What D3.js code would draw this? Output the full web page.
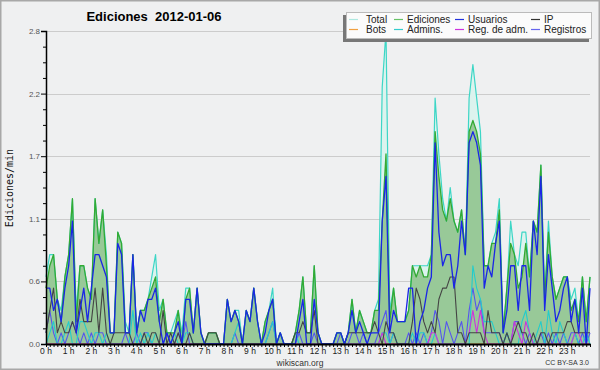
<!DOCTYPE html>
<html>
<head>
<meta charset="utf-8">
<script src="https://cdn.jsdelivr.net/npm/d3@7"></script>
<style>
  html, body { margin: 0; padding: 0; background: #eff0f1; }
  svg { display: block; }
</style>
</head>
<body>
<div id="plotdiv"></div>
<script>
// data: 10 minute slots, 0 h .. 24 h (145 points)
const ediciones = [
  0.5,0.7,0.8,0.4,0.2,0.6, 0.8,1.3,0.2,0.7,0.7,0.5, 0.4,1.3,0.9,1.2,0.7,0.1,
  0.1,1.0,0.9,0.1,0.1,0.8, 0.1,0.3,0.3,0.4,0.5,0.6, 0.2,0.4,0.1,0.1,0.1,0.3,
  0.0,0.4,0.5,0.1,0.5,0.1, 0.0,0.1,0.1,0.1,0.0,0.0, 0.4,0.2,0.3,0.2,0.0,0.3,
  0.2,0.5,0.2,0.0,0.2,0.3, 0.4,0.0,0.1,0.0,0.0,0.0, 0.1,0.3,0.6,0.1,0.1,0.7,
  0.1,0.0,0.0,0.0,0.0,0.1, 0.1,0.0,0.1,0.4,0.1,0.3, 0.2,0.1,0.1,0.3,0.3,1.1,
  1.7,0.2,0.5,0.2,0.2,0.2, 0.3,0.7,0.6,0.7,0.6,0.6, 0.8,1.9,1.5,1.2,1.1,1.3,
  1.1,1.0,1.2,0.8,1.9,2.0, 1.9,1.7,0.7,0.7,0.9,0.9, 1.2,0.1,0.5,0.9,0.8,0.5,
  0.6,0.9,0.6,1.1,1.0,1.6, 0.4,1.0,0.6,0.4,0.5,0.6, 0.6,0.3,0.4,0.2,0.6,0.2,
  0.6
];
const total = [
  0.6,0.8,0.8,0.4,0.3,0.6, 0.8,1.3,0.3,0.7,0.7,0.5, 0.4,1.3,0.9,1.2,0.8,0.1,
  0.1,1.0,0.9,0.2,0.1,0.8, 0.1,0.3,0.3,0.4,0.6,0.8, 0.3,0.4,0.1,0.1,0.2,0.3,
  0.1,0.5,0.5,0.1,0.5,0.1, 0.0,0.1,0.1,0.1,0.0,0.0, 0.4,0.2,0.3,0.3,0.0,0.3,
  0.2,0.5,0.2,0.0,0.2,0.3, 0.5,0.0,0.1,0.0,0.0,0.0, 0.1,0.3,0.6,0.1,0.1,0.7,
  0.1,0.0,0.0,0.0,0.0,0.1, 0.1,0.0,0.1,0.4,0.1,0.3, 0.2,0.1,0.1,0.3,0.4,2.3,
  2.8,0.3,0.5,0.2,0.2,0.2, 0.3,0.7,0.7,0.7,0.7,0.7, 0.8,2.2,1.7,1.3,1.1,1.4,
  1.1,1.0,1.2,0.8,2.2,2.5, 2.2,1.9,0.7,0.7,0.9,1.0, 1.3,0.1,0.5,1.1,0.8,0.7,
  1.0,1.0,0.6,1.1,1.0,1.6, 0.4,1.1,0.6,0.4,0.5,0.6, 0.6,0.4,0.5,0.2,0.6,0.2,
  0.6
];
const usuarios = [
  0.5,0.5,0.3,0.4,0.2,0.5, 0.7,1.1,0.1,0.3,0.5,0.2, 0.5,0.8,0.8,0.7,0.6,0.1,
  0.1,0.9,0.8,0.1,0.1,0.8, 0.1,0.3,0.2,0.4,0.4,0.5, 0.2,0.0,0.1,0.0,0.1,0.2,
  0.0,0.4,0.4,0.1,0.5,0.1, 0.0,0.0,0.0,0.0,0.0,0.0, 0.4,0.2,0.3,0.2,0.0,0.3,
  0.2,0.5,0.2,0.0,0.1,0.3, 0.4,0.0,0.1,0.0,0.0,0.0, 0.0,0.2,0.4,0.0,0.0,0.4,
  0.1,0.0,0.0,0.0,0.0,0.1, 0.1,0.0,0.1,0.3,0.1,0.2, 0.1,0.0,0.1,0.1,0.1,1.1,
  1.5,0.1,0.3,0.2,0.2,0.2, 0.5,0.5,0.0,0.2,0.3,0.5, 0.6,1.8,1.0,0.7,0.8,0.8,
  0.5,0.7,1.1,0.8,1.8,1.9, 1.8,1.6,0.5,0.7,0.6,0.9, 1.1,0.1,0.3,0.7,0.7,0.3,
  0.7,0.7,0.3,1.1,0.8,1.5, 0.3,0.8,0.5,0.2,0.3,0.5, 0.6,0.2,0.4,0.1,0.5,0.0,
  0.5
];
const ip = [
  0.1,0.3,0.5,0.1,0.2,0.1, 0.1,0.2,0.1,0.4,0.2,0.2, 0.2,0.5,0.1,0.5,0.1,0.0,
  0.1,0.1,0.1,0.1,0.1,0.0, 0.0,0.0,0.1,0.0,0.1,0.1, 0.0,0.3,0.0,0.1,0.0,0.1,
  0.0,0.0,0.1,0.0,0.0,0.0, 0.0,0.1,0.1,0.1,0.0,0.0, 0.0,0.0,0.0,0.0,0.0,0.0,
  0.0,0.0,0.0,0.0,0.0,0.0, 0.0,0.0,0.0,0.0,0.0,0.0, 0.1,0.1,0.2,0.1,0.1,0.3,
  0.0,0.0,0.0,0.0,0.0,0.0, 0.0,0.0,0.1,0.1,0.1,0.1, 0.1,0.1,0.1,0.2,0.1,0.0,
  0.2,0.1,0.1,0.0,0.0,0.0, 0.0,0.2,0.5,0.4,0.2,0.1, 0.2,0.1,0.4,0.5,0.5,0.6,
  0.6,0.1,0.1,0.0,0.1,0.1, 0.1,0.1,0.0,0.3,0.1,0.1, 0.1,0.0,0.1,0.0,0.1,0.2,
  0.1,0.1,0.0,0.1,0.0,0.1, 0.1,0.0,0.1,0.1,0.1,0.1, 0.2,0.2,0.1,0.1,0.1,0.1,
  0.1
];
const bots = [
  0,0,0,0,0,0, 0,0,0,0,0,0, 0,0,0,0,0,0, 0,0,0,0,0,0, 0,0,0,0,0,0, 0,0,0,0,0,0,
  0,0,0,0,0,0, 0,0,0,0,0,0, 0,0,0,0,0,0, 0,0,0,0,0,0, 0,0,0,0,0,0, 0,0,0,0,0,0,
  0,0,0,0,0,0, 0,0,0,0,0,0, 0,0,0,0,0,0, 0,0,0,0,0,0, 0,0,0,0,0,0, 0,0,0,0,0,0,
  0,0,0,0,0,0, 0,0,0,0,0,0, 0,0,0,0,0,0, 0,0,0,0,0,0, 0,0,0,0,0,0, 0,0,0,0,0,0,
  0
];
const admins = [
  0,0.1,0.2,0,0,0.1, 0.2,0,0,0.2,0.2,0.1, 0,0.1,0.1,0,0.1,0,
  0,0,0,0,0,0.3, 0,0.1,0,0.1,0,0.1, 0,0,0,0,0.1,0,
  0,0.1,0.1,0,0,0, 0,0,0,0,0,0, 0,0,0.1,0.2,0,0,
  0,0,0,0,0,0.1, 0.2,0,0,0,0,0, 0.1,0,0,0,0,0,
  0,0,0,0,0,0, 0,0,0,0,0,0, 0,0,0,0,0,0.1,
  0.1,0,0.1,0,0,0, 0,0.1,0,0.1,0.1,0, 0,0.1,0,0,0,0,
  0,0,0,0,0,0.7, 0.5,0.4,0.2,0.2,0.2,0.1, 0,0,0.1,0,0,0,
  0.2,0.3,0.1,0,0.1,0.2, 0,0.3,0.1,0,0.2,0.1, 0,0,0.1,0,0,0.1,
  0
];
const regAdm = [
  0,0,0,0,0,0, 0,0,0,0,0,0, 0,0,0,0,0,0, 0,0,0,0,0,0, 0,0,0,0,0,0, 0,0,0,0,0,0,
  0,0,0,0,0,0, 0,0,0,0,0,0, 0,0,0,0,0,0, 0,0,0,0,0,0, 0,0,0,0,0,0, 0,0,0,0,0,0,
  0,0,0,0,0,0, 0,0,0,0,0,0, 0,0,0,0,0,0.1, 0,0,0,0,0,0, 0,0,0,0,0,0, 0.1,0.1,0,0,0,0,
  0,0,0,0,0.1,0.3, 0.1,0.3,0.1,0,0,0, 0,0,0,0,0.2,0.1, 0,0.2,0.1,0,0,0, 0,0,0,0,0,0,
  0,0,0.1,0.1,0,0,
  0
];
const registros = [
  0.1,0.3,0.1,0,0.1,0, 0.1,0.2,0.1,0,0.1,0, 0.1,0,0.1,0.1,0,0,
  0,0,0,0.1,0,0, 0.1,0,0.1,0.1,0,0, 0,0,0.1,0,0,0.1,
  0,0.2,0,0,0,0, 0,0,0,0,0,0, 0,0,0.1,0,0,0,
  0,0,0,0,0,0.1, 0.2,0,0.1,0,0,0, 0,0.1,0,0,0,0.1,
  0,0,0,0,0,0, 0.1,0,0,0.1,0.1,0, 0.1,0,0,0,0.1,0.2,
  0.3,0,0.1,0,0,0, 0.1,0,0.1,0,0.1,0, 0.1,0.3,0.2,0,0.2,0.1,
  0,0.1,0.2,0,0.3,0.5, 0.3,0.4,0.1,0.1,0.1,0.1, 0.1,0,0.1,0,0.2,0.2,
  0.1,0,0.1,0,0,0.1, 0,0.1,0,0.1,0,0.1, 0,0.1,0.1,0,0.1,0,
  0.1
];
const hourLabels = ["0 h","1 h","2 h","3 h","4 h","5 h","6 h","7 h","8 h","9 h","10 h","11 h",
  "12 h","13 h","14 h","15 h","16 h","17 h","18 h","19 h","20 h","21 h","22 h","23 h"];
const yMajor = [0, 0.56, 1.12, 1.68, 2.24, 2.8];
const yMinor = [0.14, 0.28, 0.42, 0.70, 0.84, 0.98, 1.26, 1.40, 1.54, 1.82, 1.96, 2.10, 2.38, 2.52, 2.66];

// series styles
const legendItems = [
  {name: "Total", color: "#aee8e0", row: 0, col: 0},
  {name: "Ediciones", color: "#66c266", row: 0, col: 1},
  {name: "Usuarios", color: "#2233dd", row: 0, col: 2},
  {name: "IP", color: "#333333", row: 0, col: 3},
  {name: "Bots", color: "#f0a040", row: 1, col: 0},
  {name: "Admins.", color: "#33cccc", row: 1, col: 1},
  {name: "Reg. de adm.", color: "#cc33dd", row: 1, col: 2},
  {name: "Registros", color: "#6666ee", row: 1, col: 3}
];
const legendCols = [347, 392, 453, 529];

const W = 600, H = 370;
const margin = {top: 31, right: 10, bottom: 26, left: 46};

const svg = d3.select("#plotdiv")
  .append("svg")
  .attr("width", W)
  .attr("height", H);

svg.append("rect")
  .attr("x", 0.5).attr("y", 0.5)
  .attr("width", W - 1).attr("height", H - 1)
  .attr("fill", "#eff0f1")
  .attr("stroke", "#a8a8a8")
  .attr("stroke-width", 2);

const x = d3.scaleLinear().domain([0, 144]).range([margin.left, W - margin.right]);
const y = d3.scaleLinear().domain([0, 2.8]).range([H - margin.bottom, margin.top]);

// grid
svg.append("g")
  .selectAll("line")
  .data(yMajor.slice(1))
  .enter()
  .append("line")
  .attr("x1", x(0)).attr("x2", x(144))
  .attr("y1", d => Math.round(y(d)) + 0.5).attr("y2", d => Math.round(y(d)) + 0.5)
  .attr("stroke", "#cccccc");

const idx = d3.range(145);

const area = (arr) => d3.area()
  .x(i => x(i))
  .y0(y(0))
  .y1(i => y(arr[i]));

const line = (arr) => d3.line()
  .x(i => x(i))
  .y(i => y(arr[i]));

// filled series
svg.append("path").attr("d", area(total)(idx))
  .attr("fill", "#dcf3ee");
svg.append("path").attr("d", area(ediciones)(idx))
  .attr("fill", "#98c998");

const lines = [
  {arr: bots, color: "#f0a040", w: 1},
  {arr: registros, color: "#5555ee", w: 1.1},
  {arr: admins, color: "#22cccc", w: 1.1},
  {arr: regAdm, color: "#cc33dd", w: 1.1},
  {arr: total, color: "#3dd6c6", w: 1.2},
  {arr: ediciones, color: "#33aa33", w: 1.3},
  {arr: ip, color: "#444444", w: 1.1},
  {arr: usuarios, color: "#1a26e6", w: 1.3}
];

svg.append("g")
  .selectAll("path")
  .data(lines)
  .enter()
  .append("path")
  .attr("d", d => line(d.arr)(idx))
  .attr("fill", "none")
  .attr("stroke", d => d.color)
  .attr("stroke-width", d => d.w)
  .attr("stroke-linejoin", "round");

// axes
const yAxis = svg.append("g")
  .attr("transform", "translate(" + x(0) + ",0)")
  .call(d3.axisLeft(y).tickValues(yMajor).tickFormat(d3.format(".1f")).tickSize(5).tickPadding(1));
yAxis.selectAll("text").attr("font-size", 8).attr("fill", "#555").attr("font-family", "Liberation Sans, sans-serif");
yAxis.select(".domain").attr("stroke-width", 1.5);

svg.append("g")
  .attr("transform", "translate(" + x(0) + ",0)")
  .call(d3.axisLeft(y).tickValues(yMinor).tickFormat("").tickSize(3))
  .select(".domain").remove();

const xAxis = svg.append("g")
  .attr("transform", "translate(0," + y(0) + ")")
  .call(d3.axisBottom(x).tickValues(idx).tickFormat("").tickSize(3).tickSizeOuter(0));
xAxis.select(".domain").attr("stroke-width", 2);

svg.append("g")
  .selectAll("text")
  .data(hourLabels)
  .enter()
  .append("text")
  .attr("x", (d, i) => x(i * 6))
  .attr("y", y(0) + 10)
  .attr("text-anchor", "middle")
  .attr("font-family", "Liberation Sans, sans-serif")
  .attr("font-size", 8.5)
  .attr("fill", "#222")
  .text(d => d);

// titles
svg.append("text")
  .attr("x", 154).attr("y", 21)
  .attr("text-anchor", "middle")
  .attr("font-family", "Liberation Sans, sans-serif")
  .attr("font-weight", "bold")
  .attr("font-size", 13)
  .style("white-space", "pre")
  .text("Ediciones  2012-01-06");

svg.append("text")
  .attr("transform", "translate(13,188) rotate(-90)")
  .attr("text-anchor", "middle")
  .attr("font-family", "DejaVu Sans Mono, monospace")
  .attr("font-size", 10)
  .attr("fill", "#111")
  .text("Ediciones/min");

svg.append("text")
  .attr("x", 300).attr("y", 366)
  .attr("text-anchor", "middle")
  .attr("font-family", "Liberation Sans, sans-serif")
  .attr("font-size", 8.5)
  .attr("fill", "#333")
  .text("wikiscan.org");

svg.append("text")
  .attr("x", 589).attr("y", 365)
  .attr("text-anchor", "end")
  .attr("font-family", "Liberation Sans, sans-serif")
  .attr("font-size", 7)
  .attr("fill", "#333")
  .text("CC BY-SA 3.0");

// legend
const lg = svg.append("g");
lg.append("rect")
  .attr("x", 343).attr("y", 15).attr("width", 246).attr("height", 27)
  .attr("fill", "#777");
lg.append("rect")
  .attr("x", 346.5).attr("y", 12.5).attr("width", 245).attr("height", 26)
  .attr("fill", "#fbfbfb").attr("stroke", "#bbb");

const li = lg.selectAll("g.item")
  .data(legendItems)
  .enter()
  .append("g")
  .attr("class", "item")
  .attr("transform", d => "translate(" + legendCols[d.col] + "," + (19.5 + d.row * 10) + ")");
li.append("line")
  .attr("x1", 2).attr("x2", 11)
  .attr("stroke", d => d.color)
  .attr("stroke-width", 1.2);
li.append("text")
  .attr("x", d => d.col === 0 ? 19 : 15)
  .attr("y", 3.5)
  .attr("font-family", "Liberation Sans, sans-serif")
  .attr("font-size", 10)
  .attr("fill", "#222")
  .text(d => d.name);
</script>
</body>
</html>
